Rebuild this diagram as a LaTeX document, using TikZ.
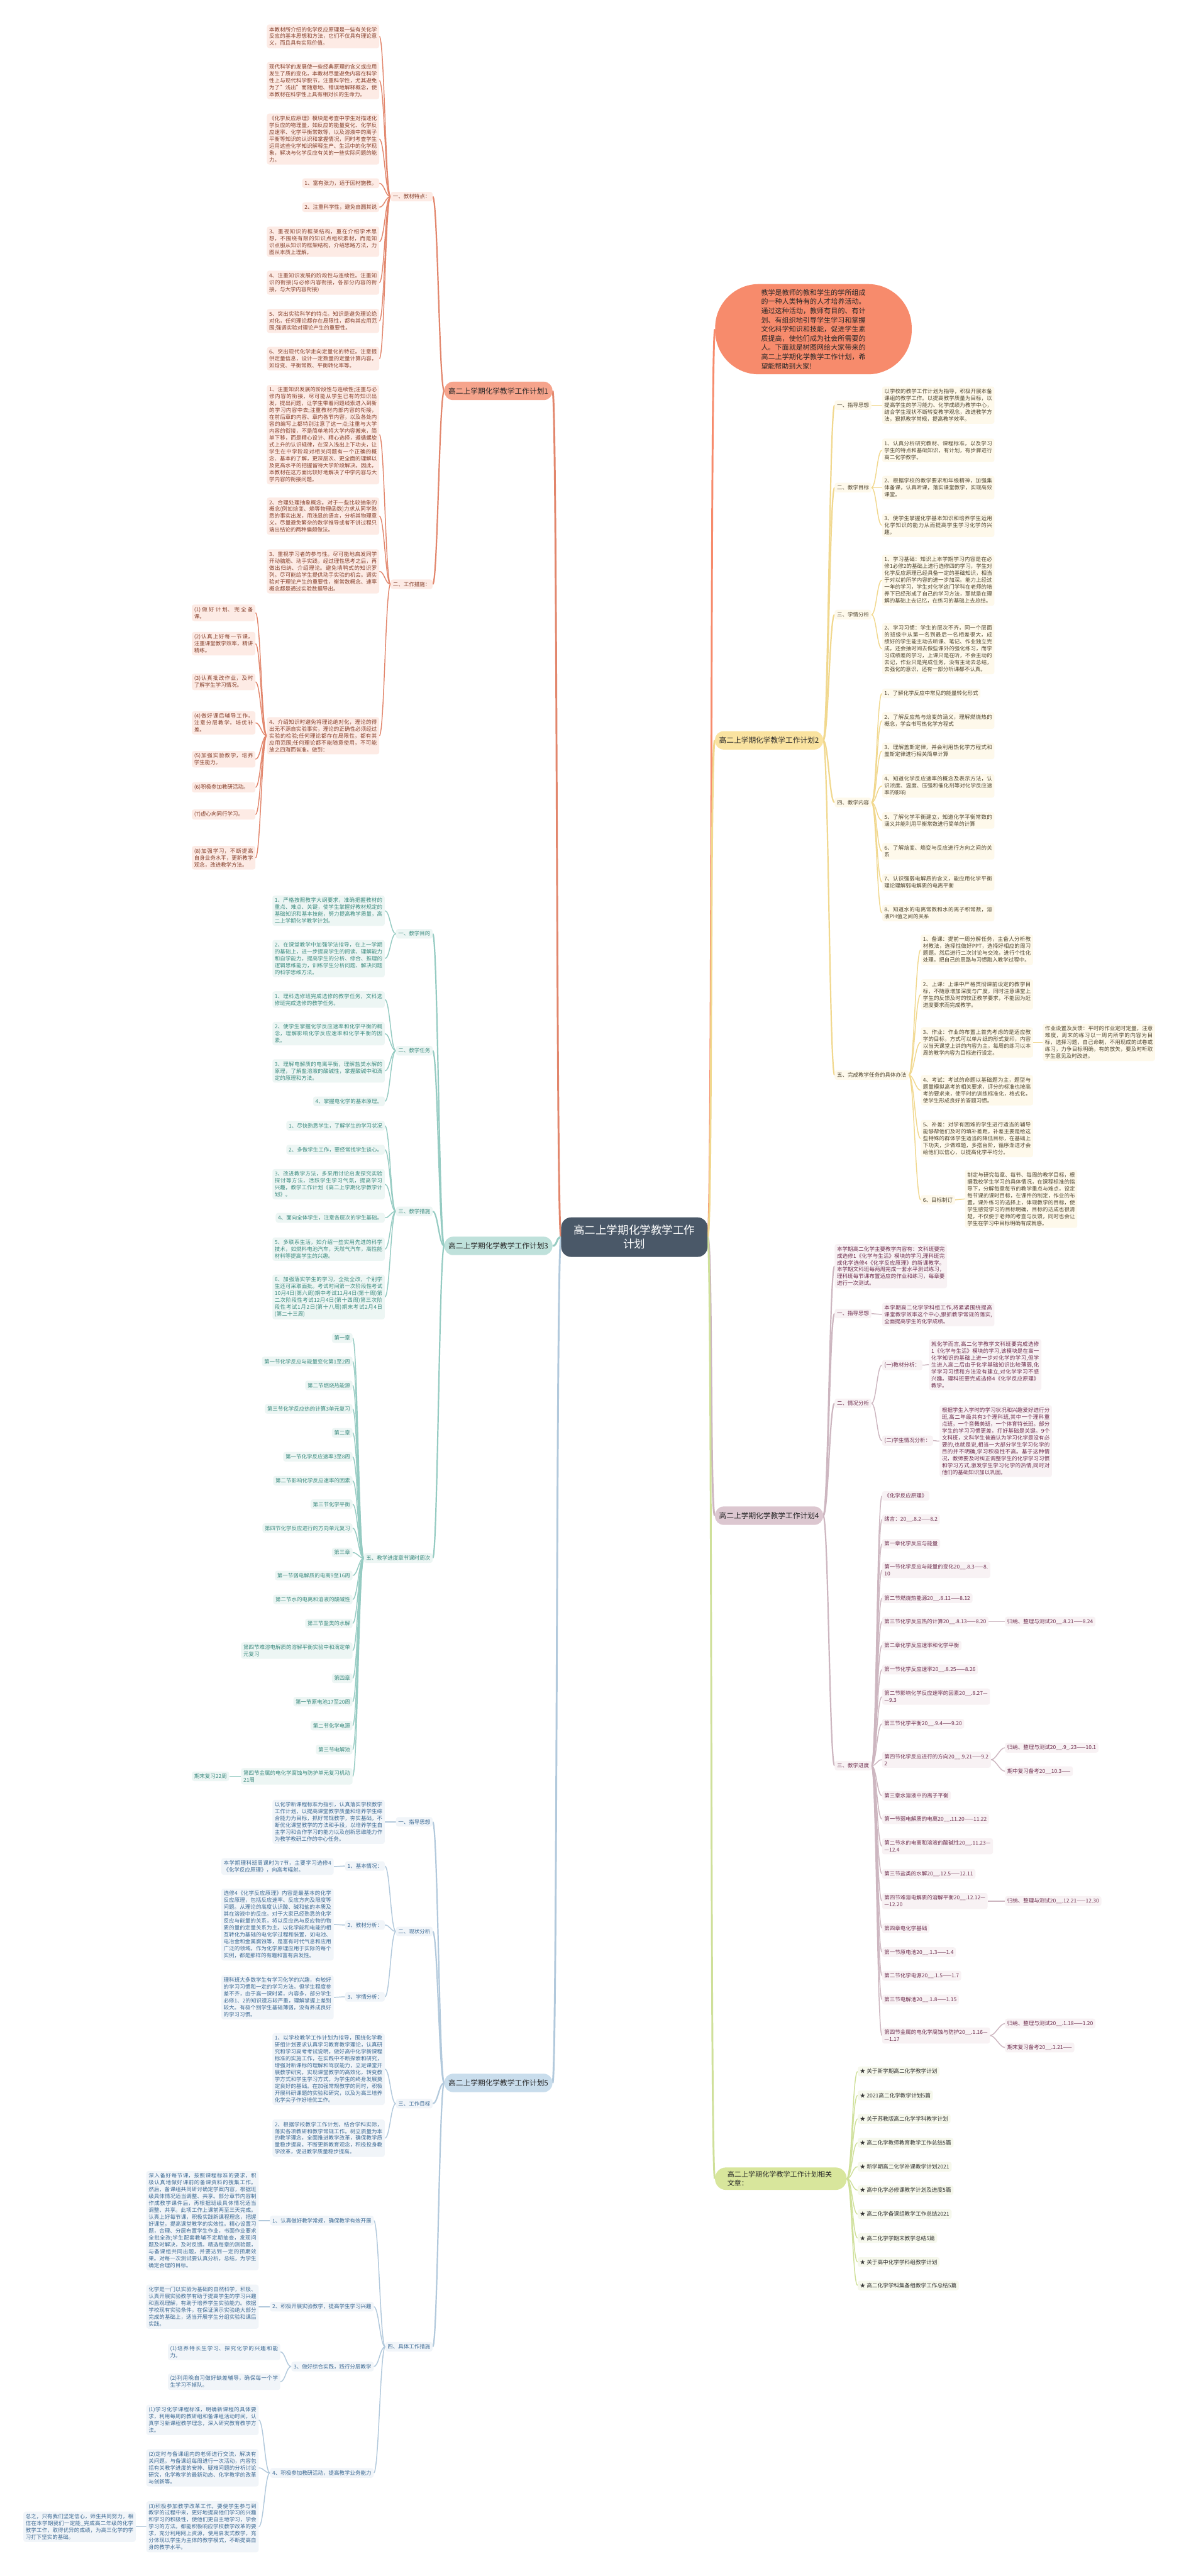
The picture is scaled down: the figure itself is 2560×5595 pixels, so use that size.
\documentclass[tikz,border=0pt]{standalone}
\usepackage{fontspec}
\setmainfont{Noto Sans CJK SC}
\XeTeXlinebreaklocale "zh"
\XeTeXlinebreakskip=0pt plus 1pt
\definecolor{fA}{HTML}{FDEBE5}\definecolor{tA}{HTML}{85402C}\definecolor{lA}{HTML}{E2866C}\definecolor{mA}{HTML}{F6A48C}
\definecolor{fB}{HTML}{FEF9EB}\definecolor{tB}{HTML}{4F4530}\definecolor{lB}{HTML}{F1D88E}\definecolor{mB}{HTML}{FAE3A0}
\definecolor{fC}{HTML}{EDF6F4}\definecolor{tC}{HTML}{3C8B7F}\definecolor{lC}{HTML}{95CBC2}\definecolor{mC}{HTML}{BFE1DB}
\definecolor{fD}{HTML}{F8F2F4}\definecolor{tD}{HTML}{6E2E4E}\definecolor{lD}{HTML}{CDB6C0}\definecolor{mD}{HTML}{DCC7D0}
\definecolor{fE}{HTML}{F1F5F9}\definecolor{tE}{HTML}{3D6A94}\definecolor{lE}{HTML}{B2C9DC}\definecolor{mE}{HTML}{C9DDEC}
\definecolor{fG}{HTML}{F6F8EC}\definecolor{tG}{HTML}{333333}\definecolor{lG}{HTML}{CFE09A}\definecolor{mG}{HTML}{D8E69C}
\definecolor{fI}{HTML}{F78B6C}\definecolor{cZ}{HTML}{4A5868}
\pgfdeclarelayer{back}\pgfdeclarelayer{bg}\pgfsetlayers{back,bg,main}
\tikzset{
 txt/.style={font=\fontsize{11.6}{15}\selectfont, rounded corners=5pt, inner xsep=5pt, inner ysep=5pt},
 para/.style={txt, text width=234pt, align=justify},
 one/.style={txt, align=left},
 mainN/.style={font=\fontsize{16}{20}\selectfont, rounded corners=19pt, minimum height=40pt, inner xsep=9pt, text=black!85},
 brA/.style={fill=fA,text=tA}, brB/.style={fill=fB,text=tB}, brC/.style={fill=fC,text=tC},
 brD/.style={fill=fD,text=tD}, brE/.style={fill=fE,text=tE}, brG/.style={fill=fG,text=tG},
}
\newcommand\LL[3]{\draw[#1] (#2.west) .. controls +(-11,0) and +(11,0) .. (#3.east);}
\newcommand\RR[3]{\draw[#1] (#2.east) .. controls +(11,0) and +(-11,0) .. (#3.west);}
\begin{document}
\begin{tikzpicture}[x=1pt,y=-1pt]
\begin{pgfonlayer}{back}
\fill[white] (0,0) rectangle (2560,5595);
\end{pgfonlayer}
\useasboundingbox (0,0) rectangle (2560,5595);
% ---------- centre
\node[fill=cZ, text=white, font=\fontsize{24}{30}\selectfont, align=center, rounded corners=22pt, minimum width=318pt, minimum height=86pt] (Z) at (1378,2687) {高二上学期化学教学工作\\计划};
% ---------- branch 1
\node[mainN, fill=mA, anchor=west] (B1) at (965,849) {高二上学期化学教学工作计划1};
\node[one, brA, anchor=east] (A1) at (940,427) {一、教材特点：};
\node[one, brA, anchor=east] (A2) at (940,1269) {二、工作措施：};
\node[para, brA, anchor=east] (a1) at (824,79) {本教材所介绍的化学反应原理是一些有关化学反应的基本思想和方法，它们不仅具有理论意义，而且具有实际价值。};
\node[para, brA, anchor=east] (a2) at (824,175) {现代科学的发展使一些经典原理的含义或应用发生了质的变化，本教材尽量避免内容在科学性上与现代科学脱节，注重科学性，尤其避免为了"浅出"而随意地、错误地解释概念，使本教材在科学性上具有相对长的生命力。};
\node[para, brA, anchor=east] (a3) at (824,302) {《化学反应原理》模块是考查中学生对描述化学反应的物理量，如反应的能量变化、化学反应速率、化学平衡常数等，以及溶液中的离子平衡等知识的认识和掌握情况，同时考查学生运用这些化学知识解释生产、生活中的化学现象，解决与化学反应有关的一些实际问题的能力。};
\node[one, brA, anchor=east] (a4) at (824,398) {1、富有张力，适于因材施教。};
\node[one, brA, anchor=east] (a5) at (824,450) {2、注重科学性，避免自圆其说};
\node[para, brA, anchor=east] (a6) at (824,525) {3、重视知识的框架结构，重在介绍学术思想，不围绕有限的知识点组织素材，而是知识点服从知识的框架结构，介绍思路方法，力图从本质上理解。};
\node[para, brA, anchor=east] (a7) at (824,614) {4、注重知识发展的阶段性与连续性。注重知识的衔接(与必修内容衔接，各部分内容的衔接，与大学内容衔接)};
\node[para, brA, anchor=east] (a8) at (824,697) {5、突出实验科学的特点。知识是避免理论绝对化，任何理论都存在局限性，都有其应用范围;强调实验对理论产生的重要性。};
\node[para, brA, anchor=east] (a9) at (824,779) {6、突出现代化学走向定量化的特征。注意提供定量信息，设计一定数量的定量计算内容，如焓变、平衡常数、平衡转化率等。};
\node[para, brA, anchor=east] (b1) at (824,944) {1、注重知识发展的阶段性与连续性;注重与必修内容的衔接，尽可能从学生已有的知识出发，提出问题，让学生带着问题线索进入到新的学习内容中去;注重教材内部内容的衔接，在前后章的内容、章内各节内容，以及各处内容的编写上都特别注意了这一点;注重与大学内容的衔接，不是简单地将大学内容搬来，简单下移，而是精心设计、精心选择，遵循螺旋式上升的认识规律，在深入浅出上下功夫，让学生在中学阶段对相关问题有一个正确的概念、基本的了解，更深层次、更全面的理解以及更高水平的把握留待大学阶段解决。因此，本教材在这方面比较好地解决了中学内容与大学内容的衔接问题。};
\node[para, brA, anchor=east] (b2) at (824,1121) {2、合理处理抽象概念。对于一些比较抽象的概念(例如焓变、熵等物理函数)力求从同学熟悉的事实出发，用浅显的语言，分析其物理意义。尽量避免繁杂的数学推导或者不讲过程只端出结论的两种偏颇做法。};
\node[para, brA, anchor=east] (b3) at (824,1241) {3、重视学习者的参与性。尽可能地启发同学开动脑筋、动手实践，经过理性思考之后，再做出归纳、介绍理论。避免填鸭式的知识罗列。尽可能给学生提供动手实验的机会。调实验对于理论产生的重要性，衡常数概念、速率概念都是通过实验数据导出。};
\node[para, brA, anchor=east] (b4) at (824,1598) {4、介绍知识时避免将理论绝对化，理论的得出无不源自实验事实，理论的正确性必须经过实验的检验;任何理论都存在局限性，都有其应用范围;任何理论都不能随意使用，不可能放之四海而皆准。做到：};
\tikzset{cw/.style={txt, brA, text width=128pt, align=justify, anchor=east}}
\node[cw] (c1) at (555,1331) {(1)做好计划、完全备课。};
\node[cw] (c2) at (555,1398) {(2)认真上好每一节课，注重课堂教学效率，精讲精练。};
\node[cw] (c3) at (555,1481) {(3)认真批改作业，及时了解学生学习情况。};
\node[cw] (c4) at (555,1570) {(4)做好课后辅导工作，注意分层教学，培优补差。};
\node[cw] (c5) at (555,1649) {(5)加强实验教学，培养学生能力。};
\node[cw] (c6) at (555,1710) {(6)积极参加教研活动。};
\node[cw] (c7) at (555,1769) {(7)虚心向同行学习。};
\node[cw] (c8) at (555,1863) {(8)加强学习，不断提高自身业务水平，更新教学观念，改进教学方法。};
% ---------- branch 3
\node[mainN, fill=mC, anchor=west] (B3) at (965,2706) {高二上学期化学教学工作计划3};
\node[one, brC, anchor=east] (C1) at (940,2028) {一、教学目的};
\node[one, brC, anchor=east] (C2) at (940,2282) {二、教学任务};
\node[one, brC, anchor=east] (C3) at (940,2631) {三、教学措施};
\node[one, brC, anchor=east] (C5) at (940,3384) {五、教学进度章节课时周次};
\node[para, brC, anchor=east] (d1) at (836,1978) {1、严格按照教学大纲要求，准确把握教材的重点、难点、关键，使学生掌握好教材规定的基础知识和基本技能，努力提高教学质量，高二上学期化学教学计划。};
\node[para, brC, anchor=east] (d2) at (836,2082) {2、在课堂教学中加强学法指导，在上一学期的基础上，进一步提高学生的阅读、理解能力和自学能力，提高学生的分析、综合、推理的逻辑思维能力，训练学生分析问题、解决问题的科学思维方法。};
\node[para, brC, anchor=east] (e1) at (836,2171) {1、理科选修班完成选修的教学任务，文科选修班完成选修的教学任务。};
\node[para, brC, anchor=east] (e2) at (836,2245) {2、使学生掌握化学反应速率和化学平衡的概念，理解影响化学反应速率和化学平衡的因素。};
\node[para, brC, anchor=east] (e3) at (836,2326) {3、理解电解质的电离平衡，理解盐类水解的原理，了解盐溶液的酸碱性，掌握酸碱中和滴定的原理和方法。};
\node[one, brC, anchor=east] (e4) at (836,2392) {4、掌握电化学的基本原理。};
\node[one, brC, anchor=east] (f1) at (836,2445) {1、尽快熟悉学生，了解学生的学习状况};
\node[one, brC, anchor=east] (f2) at (836,2497) {2、多做学生工作，要经常找学生谈心。};
\node[para, brC, anchor=east] (f3) at (836,2572) {3、改进教学方法，多采用讨论启发探究实验探讨等方法，活跃学生学习气氛，提高学习兴趣，教学工作计划《高二上学期化学教学计划》。};
\node[one, brC, anchor=east] (f4) at (836,2645) {4、面向全体学生，注意各层次的学生基础。};
\node[para, brC, anchor=east] (f5) at (836,2713) {5、多联系生活，如介绍一些实用先进的科学技术，如燃料电池汽车，天然气汽车，高性能材料等提高学生的兴趣。};
\node[para, brC, anchor=east] (f6) at (836,2817) {6、加强落实学生的学习，全批全改，个别学生还可采取面批。考试时间第一次阶段性考试10月4日(第六周)期中考试11月4日(第十周)第二次阶段性考试12月4日(第十四周)第三次阶段性考试1月2日(第十八周)期末考试2月4日(第二十三周)};
\tikzset{gw/.style={one, brC, anchor=east}}
\node[gw] (g1) at (766,2906) {第一章};
\node[gw] (g2) at (766,2957) {第一节化学反应与能量变化第1至2周};
\node[gw] (g3) at (766,3009) {第二节燃烧热能源};
\node[gw] (g4) at (766,3060) {第三节化学反应热的计算3单元复习};
\node[gw] (g5) at (766,3112) {第二章};
\node[gw] (g6) at (766,3164) {第一节化学反应速率3至8周};
\node[gw] (g7) at (766,3216) {第二节影响化学反应速率的因素};
\node[gw] (g8) at (766,3267) {第三节化学平衡};
\node[gw] (g9) at (766,3319) {第四节化学反应进行的方向单元复习};
\node[gw] (g10) at (766,3372) {第三章};
\node[gw] (g11) at (766,3422) {第一节弱电解质的电离9至16周};
\node[gw] (g12) at (766,3474) {第二节水的电离和溶液的酸碱性};
\node[gw] (g13) at (766,3526) {第三节盐类的水解};
\node[gw] (g14) at (766,3585) {第四节难溶电解质的溶解平衡实验中和滴定单\\元复习};
\node[gw] (g15) at (766,3645) {第四章};
\node[gw] (g16) at (766,3696) {第一节原电池17至20周};
\node[gw] (g17) at (766,3748) {第二节化学电源};
\node[gw] (g18) at (766,3800) {第三节电解池};
\node[gw] (g19) at (766,3858) {第四节金属的电化学腐蚀与防护单元复习机动\\21周};
\node[gw] (g20) at (498,3858) {期末复习22周};
% ---------- branch 5
\node[mainN, fill=mE, anchor=west] (B5) at (965,4524) {高二上学期化学教学工作计划5};
\node[one, brE, anchor=east] (E1) at (940,3957) {一、指导思想};
\node[one, brE, anchor=east] (E2) at (940,4195) {二、现状分析};
\node[one, brE, anchor=east] (E3) at (940,4569) {三、工作目标};
\node[one, brE, anchor=east] (E4) at (940,5097) {四、具体工作措施};
\node[para, brE, anchor=east] (h1) at (836,3957) {以化学新课程标准为指引，认真落实学校教学工作计划，以提高课堂教学质量和培养学生综合能力为目标，抓好常规教学，夯实基础，不断优化课堂教学的方法和手段，以培养学生自主学习和合作学习的能力以及创新思维能力作为教学教研工作的中心任务。};
\node[one, brE, anchor=east] (E2a) at (836,4053) {1、基本情况：};
\node[one, brE, anchor=east] (E2b) at (836,4181) {2、教材分析：};
\node[one, brE, anchor=east] (E2c) at (836,4337) {3、学情分析：};
\node[para, brE, anchor=east] (i1) at (725,4054) {本学期理科班周课时为7节，主要学习选修4《化学反应原理》，向高考辐射。};
\node[para, brE, anchor=east] (i2) at (725,4180) {选修4《化学反应原理》内容是最基本的化学反应原理，包括反应速率、反应方向及限度等问题。从理论的高度认识酸、碱和盐的本质及其在溶液中的反应。对于大家已经熟悉的化学反应与能量的关系，将以反应热与反应物的物质的量的定量关系为主。以化学能和电能的相互转化为基础的电化学过程和装置，如电池、电冶金和金属腐蚀等，是富有时代气息和应用广泛的领域。作为化学原理应用于实际的每个实例，都是那样的有趣和富有启发性。};
\node[para, brE, anchor=east] (i3) at (725,4338) {理科班大多数学生有学习化学的兴趣，有较好的学习习惯和一定的学习方法。但学生程度参差不齐，由于高一课时紧，内容多，部分学生必修1、2的知识遗忘较严重，理解掌握上差别较大。有极个别学生基础薄弱，没有养成良好的学习习惯。};
\node[para, brE, anchor=east] (j1) at (836,4494) {1、以学校教学工作计划为指导，围绕化学教研组计划要求认真学习教育教学理论，认真研究和学习高考考试说明，做好高中化学新课程标准的实施工作，在实践中不断探索和研究，增强对新课标的理解和驾驭能力，立足课堂开展教学研究，实现课堂教学的高效化，转变教学方式和学生学习方式，为学生的终身发展奠定良好的基础。在加强常规教学的同时，积极开展科研课题的实验和研究，以及为高三培养化学尖子作好培优工作。};
\node[para, brE, anchor=east] (j2) at (836,4644) {2、根据学校教学工作计划，结合学科实际，落实各项教研和教学常规工作。树立质量为本的教学理念，全面推进教学改革，确保教学质量稳步提高。不断更新教育观念，积极投身教学改革，促进教学质量稳步提高。};
\node[one, brE, anchor=east] (E4a) at (812,4823) {1、认真做好教学常规，确保教学有效开展};
\node[one, brE, anchor=east] (E4b) at (812,5010) {2、积极开展实验教学，提高学生学习兴趣};
\node[one, brE, anchor=east] (E4c) at (812,5140) {3、做好综合实践，践行分层教学};
\node[one, brE, anchor=east] (E4d) at (812,5371) {4、积极参加教研活动，提高教学业务能力};
\node[para, brE, anchor=east] (k1) at (562,4823) {深入备好每节课，按照课程标准的要求，积极认真地做好课前的备课资料的搜集工作。然后，备课组共同研讨确定学案内容，根据班级具体情况适当调整、共享。部分章节内容制作成教学课件后，再根据班级具体情况适当调整、共享。此项工作上课前两至三天完成。认真上好每节课，积极实践新课程理念，把握好课堂，提高课堂教学的实效性。精心设置习题，合理、分层布置学生作业，书面作业要求全批全改;学生配套教辅不定期抽查，发现问题及时解决，及时反馈。精选每章的测验题，与备课组共同出题，并要达到一定的预期效果。对每一次测试要认真分析，总结，为学生确定合理的目标。};
\node[para, brE, anchor=east] (k2) at (562,5010) {化学是一门以实验为基础的自然科学，积极、认真开展实验教学有助于提高学生的学习兴趣和直观理解，有助于培养学生实验能力。依据学校现有实验条件，在保证演示实验绝大部分完成的基础上，适当开展学生分组实验和课后实践。};
\node[para, brE, anchor=east] (k3) at (609,5108) {(1)培养特长生学习、探究化学的兴趣和能力。};
\node[para, brE, anchor=east] (k4) at (609,5173) {(2)利用晚自习做好缺差辅导，确保每一个学生学习不掉队。};
\node[para, brE, anchor=east] (k5) at (562,5256) {(1)学习化学课程标准，明确新课程的具体要求，利用每周的教研组和备课组活动时间，认真学习新课程教学理念，深入研究教育教学方法。};
\node[para, brE, anchor=east] (k6) at (562,5360) {(2)定时与备课组内的老师进行交流，解决有关问题。与备课组每周进行一次活动，内容包括有关教学进度的安排、疑难问题的分析讨论研究，化学教学的最新动态、化学教学的改革与创新等。};
\node[para, brE, anchor=east] (k7) at (562,5488) {(3)积极参加教学改革工作。要使学生参与到教学的过程中来，更好地提高他们学习的兴趣和学习的积极性，使他们更自主地学习，学会学习的方法。都能积极响应学校教学改革的要求，充分利用网上资源，使用启发式教学，充分体现以学生为主体的教学模式，不断提高自身的教学水平。};
\node[para, brE, anchor=east] (k8) at (295,5488) {总之，只有我们坚定信心，师生共同努力，相信在本学期我们一定能\_完成高二年级的化学教学工作，取得优异的成绩，为高三化学的学习打下坚实的基础。};
% ---------- intro
\node[fill=fI, text=black!85, font=\fontsize{15}{20}\selectfont, text width=227pt, align=justify, minimum height=196pt, rounded corners=95pt, inner xsep=100pt] (I) at (1767,715) {教学是教师的教和学生的学所组成的一种人类特有的人才培养活动。通过这种活动，教师有目的、有计划、有组织地引导学生学习和掌握文化科学知识和技能，促进学生素质提高，使他们成为社会所需要的人。下面就是树图网给大家带来的高二上学期化学教学工作计划，希望能帮助到大家!};
% ---------- branch 2
\node[mainN, fill=mB, anchor=west] (B2) at (1553,1608) {高二上学期化学教学工作计划2};
\node[one, brB, anchor=west] (D1) at (1813,880) {一、指导思想};
\node[one, brB, anchor=west] (D2) at (1813,1059) {二、教学目标};
\node[one, brB, anchor=west] (D3) at (1813,1335) {三、学情分析};
\node[one, brB, anchor=west] (D4) at (1813,1743) {四、教学内容};
\node[one, brB, anchor=west] (D5) at (1813,2335) {五、完成教学任务的具体办法};
\node[para, brB, anchor=west] (p1) at (1916,880) {以学校的教学工作计划为指导，积极开展本备课组的教学工作。以提高教学质量为目标，以提高学生的学习能力、化学成绩为教学中心，结合学生现状不断转变教学观念，改进教学方法，狠抓教学常规，提高教学效率。};
\node[para, brB, anchor=west] (p2) at (1916,978) {1、认真分析研究教材、课程标准，以及学习学生的特点和基础知识，有计划，有步骤进行高二化学教学。};
\node[para, brB, anchor=west] (p3) at (1916,1059) {2、根据学校的教学要求和年级精神，加强集体备课，认真听课，落实课堂教学，实现高效课堂。};
\node[para, brB, anchor=west] (p4) at (1916,1141) {3、使学生掌握化学基本知识和培养学生运用化学知识的能力从而提高学生学习化学的兴趣。};
\node[para, brB, anchor=west] (p5) at (1916,1260) {1、学习基础：知识上本学期学习内容是在必修1必修2的基础上进行选修四的学习，学生对化学反应原理已经具备一定的基础知识，相当于对以前所学内容的进一步加深。能力上经过一年的学习，学生对化学这门学科在老师的培养下已经形成了自己的学习方法，那就是在理解的基础上去记忆，在练习的基础上去总结。};
\node[para, brB, anchor=west] (p6) at (1916,1409) {2、学习习惯：学生的层次不齐，同一个层面的班级中从第一名到最后一名相差很大，成绩好的学生能主动去听课、笔记、作业独立完成，还会抽时间去做些课外的强化练习，而学习成绩差的学习，上课只是在听，不会主动的去记，作业只是完成任务，没有主动去总结，去强化的意识，还有一部分听课都不认真。};
\node[one, brB, anchor=west] (q1) at (1916,1506) {1、了解化学反应中常见的能量转化形式};
\node[para, brB, anchor=west] (q2) at (1916,1565) {2、了解反应热与焓变的涵义，理解燃烧热的概念，学会书写热化学方程式};
\node[para, brB, anchor=west] (q3) at (1916,1631) {3、理解盖斯定律，并会利用热化学方程式和盖斯定律进行相关简单计算};
\node[para, brB, anchor=west] (q4) at (1916,1707) {4、知道化学反应速率的概念及表示方法，认识浓度、温度、压强和催化剂等对化学反应速率的影响};
\node[para, brB, anchor=west] (q5) at (1916,1782) {5、了解化学平衡建立，知道化学平衡常数的涵义并能利用平衡常数进行简单的计算};
\node[para, brB, anchor=west] (q6) at (1916,1849) {6、了解焓变、熵变与反应进行方向之间的关系};
\node[para, brB, anchor=west] (q7) at (1916,1916) {7、认识强弱电解质的含义，能应用化学平衡理论理解弱电解质的电离平衡};
\node[para, brB, anchor=west] (q8) at (1916,1983) {8、知道水的电离常数和水的离子积常数，溶液PH值之间的关系};
\node[para, brB, anchor=west] (r1) at (2000,2063) {1、备课：提前一周分解任务，主备人分析教材教法，选择性做好PPT，选择好相应的周习题题。然后进行二次讨论与交流，进行个性化处理，把自己的思路与习惯融入教学过程中。};
\node[para, brB, anchor=west] (r2) at (2000,2160) {2、上课：上课中严格贯彻课前设定的教学目标，不随意增加深度与广度，同时注意课堂上学生的反馈及时的较正教学要求，不能因为赶进度要求而完成教学。};
\node[para, brB, anchor=west] (r3) at (2000,2264) {3、作业：作业的布置上首先考虑的是适应教学的目标，方式可以单片纸的形式复印，内容以当天课堂上讲的内容为主，每周的练习以本周的教学内容为目标进行设定。};
\node[para, brB, anchor=west] (r3c) at (2265,2264) {作业设置及反馈：平时的作业定时定量，注意难度，周末的练习以一周内所学的内容为目标，选择习题，自己命制，不用现成的试卷或练习，力争目标明确，有的放矢，要及时听取学生意见及时改进。};
\node[para, brB, anchor=west] (r4) at (2000,2368) {4、考试：考试的命题以基础题为主，题型与题量模拟高考的相关要求，评分的标准也按高考的要求来，使平时的训练标准化，格式化，使学生形成良好的答题习惯。};
\node[para, brB, anchor=west] (r5) at (2000,2473) {5、补差：对学有困难的学生进行适当的辅导能够帮他们及时的填补差距，补差主要是给这些特殊的群体学生适当的降低目标，在基础上下功夫，少做难题，多搭台阶，循序渐进才会给他们以信心，以提高化学平均分。};
\node[one, brB, anchor=west] (r6) at (2000,2606) {6、目标制订};
\node[para, brB, anchor=west] (r6c) at (2096,2604) {制定与研究每章、每节、每周的教学目标，根据我校学生学习的具体情况，在课程标准的指导下，分解每章每节的教学重点与难点，设定每节课的课时目标，在课件的制定，作业的布置，课外练习的选择上，体现教学的目标，使学生感觉学习的目标明确，目标的达成也很清楚，不仅便于老师的考查与反馈，同时也会让学生在学习中目标明确有成就感。};
% ---------- branch 4
\node[mainN, fill=mD, anchor=west] (B4) at (1553,3292) {高二上学期化学教学工作计划4};
\node[para, brD, anchor=west] (s0) at (1813,2750) {本学期高二化学主要教学内容有：文科班要完成选修1《化学与生活》模块的学习,理科班完成化学选修4《化学反应原理》的新课教学。本学期文科班每两周完成一套水平测试练习，理科班每节课布置适应的作业和练习，每章要进行一次测试。};
\node[one, brD, anchor=west] (F1) at (1813,2853) {一、指导思想};
\node[one, brD, anchor=west] (F2) at (1813,3048) {二、情况分析};
\node[one, brD, anchor=west] (F3) at (1813,3835) {三、教学进度};
\node[para, brD, anchor=west] (s1) at (1916,2855) {本学期高二化学学科组工作,将紧紧围绕提高课堂教学效率这个中心,狠抓教学常规的落实,全面提高学生的化学成绩。};
\node[one, brD, anchor=west] (F2a) at (1916,2965) {(一)教材分析：};
\node[one, brD, anchor=west] (F2b) at (1916,3129) {(二)学生情况分析：};
\node[para, brD, anchor=west] (s2) at (2018,2964) {就化学而言,高二化学教学文科班要完成选修1《化学与生活》模块的学习,该模块是在高一化学知识的基础上进一步对化学的学习,但学生进入高二后由于化学基础知识比较薄弱,化学学习习惯和方法没有建立,对化学学习不感兴趣。理科班要完成选修4《化学反应原理》教学。};
\node[para, brD, anchor=west] (s3) at (2041,3130) {根据学生入学时的学习状况和兴趣爱好进行分班,高二年级共有3个理科班,其中一个理科重点班，一个音舞美班，一个体育特长班。部分学生的学习习惯更差，打好基础是关键。9个文科班，文科学生普遍认为学习化学是没有必要的,也就是说,相当一大部分学生学习化学的目的并不明确,学习积极性不高。基于这种情况，教师要及时纠正调整学生的化学学习习惯和学习方式,激发学生学习化学的热情,同时对他们的基础知识加以巩固。};
\tikzset{tw4/.style={one, brD, anchor=west}}
\node[tw4] (t1) at (1916,3249) {《化学反应原理》};
\node[tw4] (t2) at (1916,3300) {绪言：20\_\_.8.2——8.2};
\node[tw4] (t3) at (1916,3353) {第一章化学反应与能量};
\node[tw4] (t4) at (1916,3410) {第一节化学反应与能量的变化20\_\_.8.3——8.\\10};
\node[tw4] (t5) at (1916,3471) {第二节燃烧热能源20\_\_.8.11——8.12};
\node[tw4] (t6) at (1916,3522) {第三节化学反应热的计算20\_\_.8.13——8.20};
\node[tw4] (t7) at (1916,3574) {第二章化学反应速率和化学平衡};
\node[tw4] (t8) at (1916,3626) {第一节化学反应速率20\_\_.8.25——8.26};
\node[tw4] (t9) at (1916,3685) {第二节影响化学反应速率的因素20\_\_.8.27—\\—9.3};
\node[tw4] (t10) at (1916,3744) {第三节化学平衡20\_\_.9.4——9.20};
\node[tw4] (t11) at (1916,3822) {第四节化学反应进行的方向20\_\_.9.21——9.2\\2};
\node[tw4] (t12) at (1916,3900) {第三章水溶液中的离子平衡};
\node[tw4] (t13) at (1916,3951) {第一节弱电解质的电离20\_\_.11.20——11.22};
\node[tw4] (t14) at (1916,4010) {第二节水的电离和溶液的酸碱性20\_\_.11.23—\\—12.4};
\node[tw4] (t15) at (1916,4070) {第三节盐类的水解20\_\_.12.5——12.11};
\node[tw4] (t16) at (1916,4129) {第四节难溶电解质的溶解平衡20\_\_.12.12—\\—12.20};
\node[tw4] (t17) at (1916,4188) {第四章电化学基础};
\node[tw4] (t18) at (1916,4240) {第一节原电池20\_\_.1.3——1.4};
\node[tw4] (t19) at (1916,4291) {第二节化学电源20\_\_.1.5——1.7};
\node[tw4] (t20) at (1916,4343) {第三节电解池20\_\_.1.8——1.15};
\node[tw4] (t21) at (1916,4421) {第四节金属的电化学腐蚀与防护20\_\_.1.16—\\—1.17};
\node[tw4] (u1) at (2183,3522) {归纳、整理与测试20\_\_.8.21——8.24};
\node[tw4] (u2) at (2183,3796) {归纳、整理与测试20\_\_.9\_.23——10.1};
\node[tw4] (u3) at (2183,3847) {期中复习备考20\_\_10.3——};
\node[tw4] (u4) at (2183,4129) {归纳、整理与测试20\_\_.12.21——12.30};
\node[tw4] (u5) at (2183,4395) {归纳、整理与测试20\_\_.1.18——1.20};
\node[tw4] (u6) at (2183,4447) {期末复习备考20\_\_.1.21——};
% ---------- related
\node[mainN, fill=mG, anchor=west, text width=232pt, align=left, font=\fontsize{15}{19}\selectfont, inner xsep=27pt, inner ysep=8pt, rounded corners=24pt] (G) at (1553,4732) {高二上学期化学教学工作计划相关文章：};
\tikzset{rw/.style={txt, brG, anchor=west, font=\fontsize{11.8}{15}\selectfont}}
\node[rw] (w1) at (1863,4499) {★ 关于新学期高二化学教学计划};
\node[rw] (w2) at (1863,4551) {★ 2021高二化学教学计划5篇};
\node[rw] (w3) at (1863,4602) {★ 关于苏教版高二化学学科教学计划};
\node[rw] (w4) at (1863,4654) {★ 高二化学教师教育教学工作总结5篇};
\node[rw] (w5) at (1863,4706) {★ 新学期高二化学补课教学计划2021};
\node[rw] (w6) at (1863,4757) {★ 高中化学必修课教学计划及进度5篇};
\node[rw] (w7) at (1863,4809) {★ 高二化学备课组教学工作总结2021};
\node[rw] (w8) at (1863,4861) {★ 高二化学学期末教学总结5篇};
\node[rw] (w9) at (1863,4913) {★ 关于高中化学学科组教学计划};
\node[rw] (w10) at (1863,4964) {★ 高二化学学科集备组教学工作总结5篇};
% ---------- connectors
\begin{pgfonlayer}{bg}
\LL{lA,line width=4pt}{Z}{B1}
\LL{lC,line width=4pt}{Z}{B3}
\LL{lE,line width=4pt}{Z}{B5}
\RR{fI,line width=4pt}{Z}{I}
\RR{lB,line width=4pt}{Z}{B2}
\RR{lD,line width=4pt}{Z}{B4}
\RR{lG,line width=4pt}{Z}{G}
% branch 1
\foreach \n in {A1,A2} {\LL{lA,line width=3pt}{B1}{\n}}
\foreach \n in {a1,a2,a3,a4,a5,a6,a7,a8,a9} {\LL{lA,line width=2pt}{A1}{\n}}
\foreach \n in {b1,b2,b3,b4} {\LL{lA,line width=2pt}{A2}{\n}}
\foreach \n in {c1,c2,c3,c4,c5,c6,c7,c8} {\LL{lA,line width=2pt}{b4}{\n}}
% branch 3
\foreach \n in {C1,C2,C3,C5} {\LL{lC,line width=3pt}{B3}{\n}}
\foreach \n in {d1,d2} {\LL{lC,line width=2pt}{C1}{\n}}
\foreach \n in {e1,e2,e3,e4} {\LL{lC,line width=2pt}{C2}{\n}}
\foreach \n in {f1,f2,f3,f4,f5,f6} {\LL{lC,line width=2pt}{C3}{\n}}
\foreach \n in {g1,g2,g3,g4,g5,g6,g7,g8,g9,g10,g11,g12,g13,g14,g15,g16,g17,g18,g19} {\LL{lC,line width=2pt}{C5}{\n}}
\LL{lC,line width=2pt}{g19}{g20}
% branch 5
\foreach \n in {E1,E2,E3,E4} {\LL{lE,line width=3pt}{B5}{\n}}
\LL{lE,line width=2pt}{E1}{h1}
\foreach \n in {E2a,E2b,E2c} {\LL{lE,line width=2pt}{E2}{\n}}
\LL{lE,line width=2pt}{E2a}{i1}
\LL{lE,line width=2pt}{E2b}{i2}
\LL{lE,line width=2pt}{E2c}{i3}
\foreach \n in {j1,j2} {\LL{lE,line width=2pt}{E3}{\n}}
\foreach \n in {E4a,E4b,E4c,E4d} {\LL{lE,line width=2pt}{E4}{\n}}
\LL{lE,line width=2pt}{E4a}{k1}
\LL{lE,line width=2pt}{E4b}{k2}
\foreach \n in {k3,k4} {\LL{lE,line width=2pt}{E4c}{\n}}
\foreach \n in {k5,k6,k7} {\LL{lE,line width=2pt}{E4d}{\n}}
\LL{lE,line width=2pt}{k7}{k8}
% branch 2
\foreach \n in {D1,D2,D3,D4,D5} {\RR{lB,line width=3pt}{B2}{\n}}
\RR{lB,line width=2pt}{D1}{p1}
\foreach \n in {p2,p3,p4} {\RR{lB,line width=2pt}{D2}{\n}}
\foreach \n in {p5,p6} {\RR{lB,line width=2pt}{D3}{\n}}
\foreach \n in {q1,q2,q3,q4,q5,q6,q7,q8} {\RR{lB,line width=2pt}{D4}{\n}}
\foreach \n in {r1,r2,r3,r4,r5,r6} {\RR{lB,line width=2pt}{D5}{\n}}
\RR{lB,line width=2pt}{r3}{r3c}
\RR{lB,line width=2pt}{r6}{r6c}
% branch 4
\foreach \n in {s0,F1,F2,F3} {\RR{lD,line width=3pt}{B4}{\n}}
\RR{lD,line width=2pt}{F1}{s1}
\foreach \n in {F2a,F2b} {\RR{lD,line width=2pt}{F2}{\n}}
\RR{lD,line width=2pt}{F2a}{s2}
\RR{lD,line width=2pt}{F2b}{s3}
\foreach \n in {t1,t2,t3,t4,t5,t6,t7,t8,t9,t10,t11,t12,t13,t14,t15,t16,t17,t18,t19,t20,t21} {\RR{lD,line width=2pt}{F3}{\n}}
\RR{lD,line width=2pt}{t6}{u1}
\RR{lD,line width=2pt}{t11}{u2}
\RR{lD,line width=2pt}{t11}{u3}
\RR{lD,line width=2pt}{t16}{u4}
\RR{lD,line width=2pt}{t21}{u5}
\RR{lD,line width=2pt}{t21}{u6}
% related
\foreach \n in {w1,w2,w3,w4,w5,w6,w7,w8,w9,w10} {\RR{lG,line width=2pt}{G}{\n}}
\end{pgfonlayer}
\end{tikzpicture}
\end{document}
